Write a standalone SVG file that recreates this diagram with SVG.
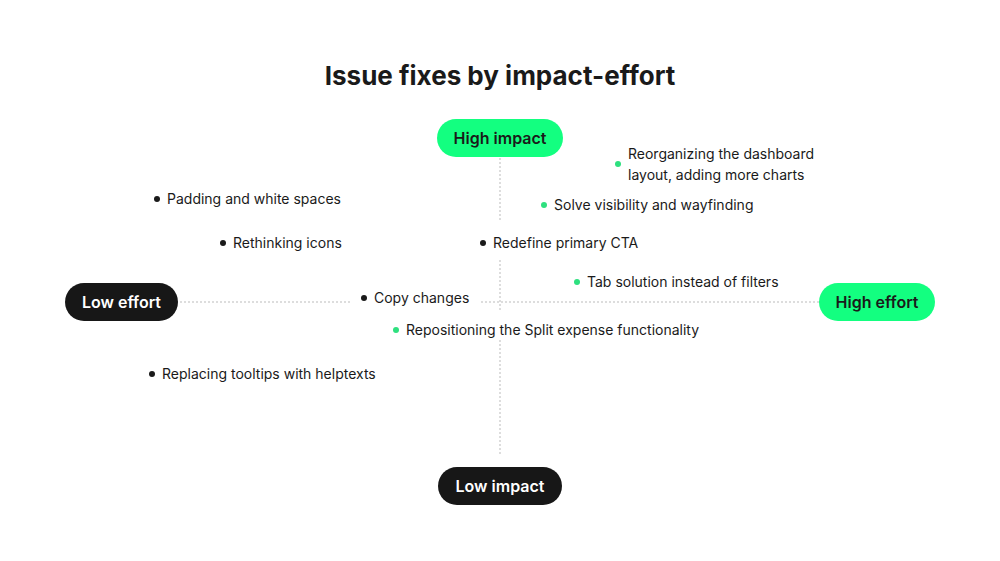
<svg xmlns="http://www.w3.org/2000/svg" width="1000" height="561" viewBox="0 0 1000 561">
<style>
text{font-family:Inter,"Liberation Sans",sans-serif;fill:#1a1a1a}
.t{font-size:26px;font-weight:700;text-anchor:middle}
.l{font-size:14px}
.p{font-size:16px;font-weight:600;text-anchor:middle}
.g{fill:#13ff80}.d{fill:#171717}
.ax{stroke:#bbb;stroke-width:1;stroke-dasharray:2 2;fill:none}
.dg{fill:#2ee07f}.dk{fill:#1a1a1a}
</style>
<rect width="1000" height="561" fill="#fff"/>
<text class="t" x="500" y="85">Issue fixes by impact-effort</text>
<g id="connectors">
<path class="ax" d="M500 158V222M500 260V312M500 340V456M180 302H350M481 302H820"/>
</g>
<g id="high-impact"><rect class="g" x="437" y="119" width="126" height="38" rx="19"/><text class="p" x="500" y="144">High impact</text></g>
<g id="low-impact"><rect class="d" x="438" y="467" width="124" height="38" rx="19"/><text class="p" x="500" y="492" style="fill:#fff">Low impact</text></g>
<g id="low-effort"><rect class="d" x="65" y="283" width="113" height="38" rx="19"/><text class="p" x="121.5" y="308" style="fill:#fff">Low effort</text></g>
<g id="high-effort"><rect class="g" x="819" y="283" width="116" height="38" rx="19"/><text class="p" x="877" y="308">High effort</text></g>
<g id="i1"><circle class="dg" cx="618" cy="164" r="3"/><text class="l" x="628" y="159">Reorganizing the dashboard</text><text class="l" x="628" y="180">layout, adding more charts</text></g>
<g id="i2"><circle class="dk" cx="157" cy="199" r="3"/><text class="l" x="167" y="204">Padding and white spaces</text></g>
<g id="i3"><circle class="dg" cx="544" cy="205" r="3"/><text class="l" x="554" y="210">Solve visibility and wayfinding</text></g>
<g id="i4"><circle class="dk" cx="223" cy="243" r="3"/><text class="l" x="233" y="248">Rethinking icons</text></g>
<g id="i5"><circle class="dk" cx="483" cy="243" r="3"/><text class="l" x="493" y="248">Redefine primary CTA</text></g>
<g id="i6"><circle class="dg" cx="577" cy="282" r="3"/><text class="l" x="587" y="287">Tab solution instead of filters</text></g>
<g id="i7"><circle class="dk" cx="364" cy="298" r="3"/><text class="l" x="374" y="303">Copy changes</text></g>
<g id="i8"><circle class="dg" cx="396" cy="330" r="3"/><text class="l" x="406" y="335">Repositioning the Split expense functionality</text></g>
<g id="i9"><circle class="dk" cx="152" cy="374" r="3"/><text class="l" x="162" y="379">Replacing tooltips with helptexts</text></g>
</svg>
